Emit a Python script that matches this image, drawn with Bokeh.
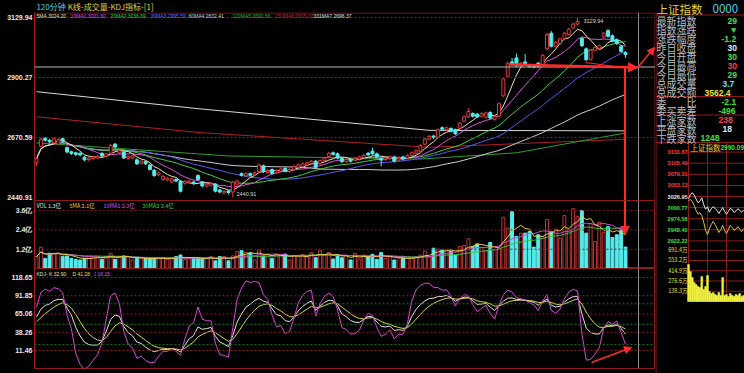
import pandas as pd
from bokeh.plotting import figure
from bokeh.layouts import row, column
from bokeh.models import Range1d, FixedTicker, Span, Label, Arrow, NormalHead, ColumnDataSource
from bokeh.core.properties import value
from bokeh.embed import file_html
from bokeh.resources import INLINE

# ---------------- data (120-minute candles) ----------------
opens = [2574,2637,2668,2660,2650,2645,2666,2632,2616,2612,
         2610,2595,2586,2590,2592,2610,2598,2610,2645,2612,
         2615,2590,2592,2585,2572,2578,2565,2545,2528,2510,
         2508,2500,2510,2503,2495,2497,2500,2525,2500,2484,
         2488,2492,2470,2458,2466,2462,2492,2532,2524,2532,
         2528,2540,2562,2536,2548,2536,2542,2552,2540,2548,
         2556,2560,2566,2572,2580,2570,2582,2598,2612,2608,
         2590,2578,2586,2584,2588,2594,2610,2618,2608,2590,
         2586,2590,2596,2584,2596,2592,2602,2610,2618,2645,
         2664,2676,2672,2708,2700,2705,2700,2706,2733,2750,
         2762,2760,2752,2748,2766,2740,2752,2830,2905,2960,
         2975,2945,2960,2948,2946,2955,2950,3010,3070,3020,
         3030,3050,3065,3090,3105,3050,3010,2970,3005,3012,
         3055,3080,3060,3045,3020,2995]
closes = [2590,2664,2660,2654,2666,2662,2656,2615,2610,2606,
          2604,2585,2592,2596,2598,2600,2608,2640,2634,2620,
          2592,2598,2600,2570,2580,2570,2548,2525,2535,2522,
          2515,2512,2504,2465,2502,2503,2494,2510,2485,2492,
          2494,2465,2462,2464,2460,2500,2504,2526,2532,2526,
          2536,2565,2540,2544,2533,2544,2550,2542,2548,2560,
          2566,2570,2574,2580,2556,2582,2592,2610,2606,2592,
          2578,2586,2580,2590,2596,2602,2604,2608,2596,2584,
          2592,2596,2580,2592,2588,2602,2612,2620,2640,2665,
          2675,2670,2700,2702,2708,2695,2685,2725,2750,2770,
          2752,2750,2762,2765,2745,2750,2800,2895,2955,2950,
          2945,2955,2950,2942,2940,2942,2985,3065,3020,3035,
          3048,3070,3085,3105,3115,3022,2968,3005,3015,3022,
          3070,3058,3040,3030,3000,2988]
highs = [2596,2670,2672,2666,2672,2668,2670,2636,2620,2616,
         2614,2600,2597,2600,2604,2614,2612,2646,2650,2626,
         2620,2603,2605,2590,2585,2582,2570,2550,2540,2527,
         2520,2517,2514,2507,2507,2508,2505,2530,2504,2497,
         2499,2496,2474,2469,2470,2505,2509,2537,2537,2537,
         2541,2572,2567,2549,2552,2549,2555,2557,2553,2565,
         2571,2575,2579,2585,2585,2587,2597,2616,2617,2613,
         2595,2591,2591,2595,2601,2607,2615,2632,2613,2595,
         2597,2601,2601,2597,2601,2607,2617,2625,2645,2670,
         2680,2681,2706,2713,2713,2710,2705,2730,2755,2782,
         2767,2765,2767,2770,2771,2755,2806,2901,2962,2975,
         2992,2960,2990,2953,2951,2960,2990,3071,3078,3040,
         3053,3075,3090,3110,3129.94,3055,3015,3010,3020,3027,
         3075,3085,3065,3050,3025,3000]
lows = [2562,2632,2655,2648,2645,2640,2650,2610,2604,2600,
        2598,2580,2580,2585,2588,2595,2594,2606,2628,2606,
        2588,2585,2588,2565,2567,2565,2544,2520,2522,2505,
        2503,2496,2499,2460,2490,2492,2489,2505,2480,2479,
        2483,2460,2457,2453,2452,2440.91,2487,2521,2519,2521,
        2523,2535,2535,2531,2528,2531,2537,2537,2535,2543,
        2551,2555,2561,2567,2551,2565,2577,2593,2601,2587,
        2573,2573,2575,2579,2583,2589,2599,2603,2591,2560,
        2581,2585,2575,2579,2583,2587,2597,2605,2613,2640,
        2659,2665,2667,2697,2695,2690,2680,2701,2728,2745,
        2747,2745,2747,2743,2740,2735,2747,2825,2900,2945,
        2940,2940,2945,2937,2935,2937,2945,3005,3015,3015,
        3025,3045,3060,3085,3100,3017,2963,2965,3000,3007,
        3050,3053,3035,3025,2995,2975]
# volume, in 亿
volumes = [0.74,1.32,0.63,0.95,0.95,0.95,0.74,0.78,0.63,0.57,
           0.53,0.63,0.74,0.74,0.74,0.57,0.74,0.95,0.57,0.74,
           0.78,0.74,0.53,0.63,0.63,0.63,0.63,0.63,0.63,0.63,
           0.57,0.63,0.74,0.84,0.57,0.63,0.67,0.63,0.63,0.63,
           0.74,0.48,0.74,0.74,0.48,0.78,1.05,1.11,1.00,0.98,
           0.53,1.15,0.78,0.90,0.63,0.84,0.84,0.90,0.53,0.78,
           0.78,0.88,0.74,0.99,0.67,1.11,0.82,1.00,0.59,0.84,
           0.67,0.82,0.53,0.95,0.59,0.84,0.74,0.88,0.57,0.99,
           0.63,0.74,0.53,0.63,0.67,0.63,0.67,0.74,0.84,1.09,
           0.74,1.26,1.20,1.15,1.15,1.09,0.84,1.37,1.43,1.85,
           1.37,1.53,1.30,1.09,1.62,1.15,1.26,3.19,2.52,3.53,
           2.00,2.20,2.20,2.30,1.33,2.10,2.00,3.05,2.30,2.45,
           1.90,3.30,2.40,3.72,3.25,3.60,2.20,2.80,1.68,2.88,
           2.25,2.60,1.93,2.10,2.45,1.33]

# long moving averages at a few candles
ma120_idx = [0, 44, 88, 110, 135]
ma120_val = [2650, 2600, 2588, 2612, 2688]
ma250_idx = [0, 37, 90, 135]
ma250_val = [2750, 2690, 2633, 2664]
ma331_idx = [0, 37, 90, 135]
ma331_val = [2846, 2781, 2698, 2696]

# axis tick labels
price_ticks = [2440.91, 2670.59, 2900.27, 3129.94]
price_tick_labels = ["2440.91", "2670.59", "2900.27", "3129.94"]
vol_ticks = [1.2, 2.4, 3.6]
vol_tick_labels = ["1.2亿", "2.4亿", "3.6亿"]
kdj_ticks = [11.46, 38.26, 65.06, 91.85, 118.65]
kdj_tick_labels = ["11.46", "38.26", "65.06", "91.85", "118.65"]

# legends
ma_legend = [("5MA 3024.20", "#ece4b0"), ("10MA1 3021.60", "#e050e0"), ("20MA2 3036.69", "#40d040"),
             ("30MA3 2995.59", "#6a6aff"), ("60MA4 2832.41", "#d0d0d0"), ("120MA5 2690.66", "#30b030"),
             ("250MA6 2605.33", "#c02828"), ("331MA7 2696.37", "#e0e0e0")]
vol_legend = [("VOL 1.3亿", "#e0e0e0"), ("5MA 2.1亿", "#e0d040"), ("10MA1 2.3亿", "#e050e0"), ("20MA2 2.4亿", "#40d040")]
kdj_legend = [("KDJ- K 32.90", "#e8e0a0"), ("D 41.28", "#e0e040"), ("J 16.15", "#e050e0")]

# right-hand quote panel (values as far as they are visible)
info_labels = ["最新指数", "指数涨跌", "涨跌幅度", "昨日收盘", "今日开盘", "今日最高", "今日最低",
               "总成交量", "总成交额", "委　　比", "委买卖差", "上涨家数", "平盘家数", "下跌家数"]
info_values = ["29", "▼", "-1.2", "30", "30", "30", "29",
               "3.7", "3562.4", "-2.1", "-496", "238", "18", "1248"]
# intraday mini chart
intra_min = [0, 3, 6, 9, 12, 15, 18, 21, 24, 27, 30, 33, 36, 39, 42, 45, 48, 51, 54, 57, 60, 63, 66, 69, 72, 75, 78, 81, 84, 87]
intra_price = [3022, 3031, 3036, 3030, 3021, 3012, 3016, 3024, 3008, 2997, 3003, 2990, 2998, 3003, 2999,
               2994, 2987, 2994, 3001, 2992, 2985, 2992, 2999, 2996, 2989, 2993, 2998, 2994, 2990, 2995]
intra_avg = [3017, 3020, 3015, 3006, 2994, 2985, 2989, 2982, 2966, 2947, 2937, 2951, 2961, 2968, 2961,
             2952, 2942, 2949, 2959, 2947, 2940, 2949, 2959, 2954, 2947, 2950, 2956, 2950, 2944, 2951]
intra_vol = [499, 405, 324, 256, 229, 202, 189, 337, 162, 202, 351, 135, 108, 121, 94, 81, 121, 81, 324,
             81, 94, 67, 108, 81, 67, 94, 81, 108, 67, 81]
mini_price_ticks = [3131.67, 3105.49, 3079.31, 3053.13, 3026.95, 3000.77, 2974.58, 2948.40, 2922.22]
mini_vol_ticks = [691.4, 553.2, 414.9, 276.6, 138.3]

# ---------------- helpers: screen pixel -> data ----------------
X0, DX = 36.0, 4.363
def ix(px): return (px - X0) / DX
def py(y): return 3129.94 - (y - 17) * 3.828
def vy(y): return (268 - y) * 0.0622
def ky(y): return 11.46 + (350 - y) * 1.468

UP = "#e23c3c"
UPV = "#c03434"
DN = "#54ecec"
GRID_R = "#8c1c1c"
GRID_G = "#1c7a1c"
CJK = "Noto Sans CJK SC"
LAT = "Liberation Sans"

xr = Range1d(ix(34), ix(655))

def base(height, yr, bottom=0):
    p = figure(width=655, height=height, x_range=xr, y_range=yr, output_backend="svg",
               toolbar_location=None, min_border_left=34, min_border_right=0,
               min_border_top=0, min_border_bottom=bottom, x_axis_location=None)
    p.background_fill_color = "black"
    p.border_fill_color = "black"
    p.outline_line_color = GRID_R
    p.grid.visible = False
    return p

def style_axis(p, ticks, labels):
    ax = p.yaxis[0]
    ax.ticker = FixedTicker(ticks=ticks)
    ax.major_label_overrides = {t: l for t, l in zip(ticks, labels)}
    ax.major_label_text_color = "#e8e8e8"
    ax.major_label_text_font_size = "7px"
    ax.major_label_text_font = LAT
    ax.major_label_text_font_style = "bold"
    ax.axis_line_color = "#a01e1e"
    ax.major_tick_line_color = None
    ax.minor_tick_line_color = None
    ax.major_tick_out = 0
    ax.major_tick_in = 0
    ax.major_label_standoff = 2

def label(p, x, y, text, color, size="6px", font=CJK, align="left"):
    p.add_layout(Label(x=x, y=y, text=text, text_color=color, text_font_size=size,
                       text_font=font, text_baseline="middle", text_align=align))

n = len(closes)
idx = list(range(n))
up = [closes[i] >= opens[i] for i in idx]
df = pd.DataFrame({"o": opens, "h": highs, "l": lows, "c": closes, "v": volumes})

def split(mask):
    ii = [i for i in idx if mask[i]]
    return dict(x=ii,
                top=[max(opens[i], closes[i]) for i in ii],
                bottom=[min(opens[i], closes[i]) for i in ii],
                high=[highs[i] for i in ii],
                low=[lows[i] for i in ii],
                vol=[volumes[i] for i in ii])

s_up = ColumnDataSource(split(up))
s_dn = ColumnDataSource(split([not u for u in up]))

ARROW = "#ff2a2a"

# ---------------- header strip ----------------
hd = figure(width=655, height=12, x_range=Range1d(0, 655), y_range=Range1d(12, 0),
            output_backend="svg", toolbar_location=None, min_border=0,
            x_axis_location=None, y_axis_location=None)
hd.background_fill_color = "black"
hd.border_fill_color = "black"
hd.outline_line_color = None
hd.grid.visible = False
hd.text(x=[2, 35], y=[6, 6], text=["120分钟", "K线-成交量-KDJ指标-[1]"],
        text_color=["#40d8d8", "#e0d040"], text_font=value(CJK), text_font_size="8px",
        text_baseline="middle")

# ---------------- price panel ----------------
pp = base(188, Range1d(py(200), py(12)))
pp.outline_line_color = None
style_axis(pp, price_ticks, price_tick_labels)
for t in price_ticks[1:]:
    pp.add_layout(Span(location=t, dimension="width", line_color=GRID_R, line_dash="2 2", line_width=1))
pp.segment(x0=[ix(34), ix(654.5)], y0=[py(12.5), py(12)], x1=[ix(655), ix(654.5)], y1=[py(12.5), py(200)],
           line_color=GRID_R, line_width=1)
pp.add_layout(Span(location=py(66.5), dimension="width", line_color="#b4b4b4", line_width=1))
pp.segment(x0=[ix(638)], y0=[py(12)], x1=[ix(638)], y1=[py(200)], line_color="#8a8a8a", line_width=1)

mas = {
    "ma60": (df.c.rolling(60, min_periods=1).mean(), "#cfcfcf"),
    "ma30": (df.c.rolling(30, min_periods=1).mean(), "#5a5aee"),
    "ma20": (df.c.rolling(20, min_periods=1).mean(), "#40d040"),
    "ma10": (df.c.rolling(10, min_periods=1).mean(), "#e050e0"),
    "ma5": (df.c.rolling(5, min_periods=1).mean(), "#ece4b0"),
}
pp.line(ma331_idx, ma331_val, line_color="#d8d8d8", line_width=1)
pp.line(ma250_idx, ma250_val, line_color="#b02020", line_width=1)
pp.line(ma120_idx, ma120_val, line_color="#2f9e2f", line_width=1)
for k, (ser, col) in mas.items():
    pp.line(idx, list(ser), line_color=col, line_width=1)

pp.segment(x0="x", y0="low", x1="x", y1="high", source=s_dn, line_color=DN, line_width=1)
pp.vbar(x="x", top="top", bottom="bottom", width=0.68, source=s_dn, fill_color=DN, line_color=DN)
pp.segment(x0="x", y0="top", x1="x", y1="high", source=s_up, line_color=UP, line_width=1)
pp.segment(x0="x", y0="low", x1="x", y1="bottom", source=s_up, line_color=UP, line_width=1)
pp.vbar(x="x", top="top", bottom="bottom", width=0.68, source=s_up, fill_color="black", line_color=UP)

ma_x = [36, 70, 110, 150, 188, 232, 275, 313]
for (t, c), xx in zip(ma_legend, ma_x):
    label(pp, ix(xx), py(15.5), t, c, size="5px", font=LAT)
label(pp, ix(583), py(20.5), "3129.94", "#d8d8d8", size="5.5px", font=LAT)
label(pp, ix(236), py(193), "2440.91", "#d8d8d8", size="5.5px", font=LAT)

pp.add_layout(Arrow(x_start=ix(508), y_start=py(64), x_end=ix(637), y_end=py(67),
                    line_color=ARROW, line_width=2.5,
                    end=NormalHead(size=9, fill_color=ARROW, line_color=ARROW)))
pp.segment(x0=[ix(585)], y0=[py(62)], x1=[ix(622)], y1=[py(67)], line_color=ARROW, line_width=1)
pp.segment(x0=[ix(624.5)], y0=[py(67)], x1=[ix(624.5)], y1=[py(201)], line_color=ARROW, line_width=2)
pp.add_layout(Arrow(x_start=ix(637), y_start=py(67), x_end=ix(654), y_end=py(47),
                    line_color=ARROW, line_width=1.5,
                    end=NormalHead(size=7, fill_color=ARROW, line_color=ARROW)))

# ---------------- volume panel ----------------
pv = base(68, Range1d(vy(268), vy(200)))
style_axis(pv, vol_ticks, vol_tick_labels)
for t in vol_ticks:
    pv.add_layout(Span(location=t, dimension="width", line_color=GRID_R, line_dash="2 2", line_width=1))
pv.add_layout(Span(location=ix(638), dimension="height", line_color="#8a8a8a", line_width=1))
pv.vbar(x="x", top="vol", bottom=0, width=0.68, source=s_dn, fill_color=DN, line_color=DN)
pv.vbar(x="x", top="vol", bottom=0, width=0.68, source=s_up, fill_color="black", line_color=UPV)
pv.line(idx, list(df.v.rolling(20, min_periods=1).mean()), line_color="#40c040", line_width=1)
pv.line(idx, list(df.v.rolling(10, min_periods=1).mean()), line_color="#d048d0", line_width=1)
pv.line(idx, list(df.v.rolling(5, min_periods=1).mean()), line_color="#e0d040", line_width=1)
for (t, c), xx in zip(vol_legend, [36, 69, 103, 142]):
    label(pv, ix(xx), vy(205), t, c, size="5.5px")
pv.add_layout(Arrow(x_start=ix(624.5), y_start=vy(200), x_end=ix(624.5), y_end=vy(234),
                    line_color=ARROW, line_width=2,
                    end=NormalHead(size=8, fill_color=ARROW, line_color=ARROW)))

# ---------------- KDJ panel ----------------
llv = df.l.rolling(9, min_periods=1).min()
hhv = df.h.rolling(9, min_periods=1).max()
rsv = ((df.c - llv) / (hhv - llv) * 100).fillna(50)
K, D = [], []
k = d = 50.0
for r in rsv:
    k = 2 / 3 * k + r / 3
    d = 2 / 3 * d + k / 3
    K.append(k)
    D.append(d)
J = [3 * a - 2 * b for a, b in zip(K, D)]

pk = base(105, Range1d(ky(368), ky(268)), bottom=5)
style_axis(pk, kdj_ticks, kdj_tick_labels)
for t in kdj_ticks:
    pk.add_layout(Span(location=t, dimension="width", line_color=GRID_R, line_dash="2 2", line_width=1))
for t in [20, 50, 80]:
    pk.add_layout(Span(location=t, dimension="width", line_color=GRID_G, line_dash="2 2", line_width=1))
pk.add_layout(Span(location=ix(638), dimension="height", line_color="#8a8a8a", line_width=1))
pk.line(idx, D, line_color="#d8d840", line_width=1)
pk.line(idx, K, line_color="#e4e4e4", line_width=1)
pk.line(idx, J, line_color="#d848d8", line_width=1)
for (t, c), xx in zip(kdj_legend, [36, 72, 93]):
    label(pk, ix(xx), ky(273.5), t, c, size="5px", font=LAT)
pk.add_layout(Arrow(x_start=ix(591), y_start=ky(362), x_end=ix(631), y_end=ky(347),
                    line_color=ARROW, line_width=1.5,
                    end=NormalHead(size=7, fill_color=ARROW, line_color=ARROW)))

# ---------------- right quote panel ----------------
pr = figure(width=89, height=373, x_range=Range1d(655, 744), y_range=Range1d(373, 0),
            output_backend="svg", toolbar_location=None, min_border=0,
            x_axis_location=None, y_axis_location=None)
pr.background_fill_color = "black"
pr.border_fill_color = "black"
pr.outline_line_color = None
pr.grid.visible = False
pr.extra_x_ranges = {"min": Range1d((655 - 688) / 0.633, (744 - 688) / 0.633)}
pr.extra_y_ranges = {"mp": Range1d(3026.95 - (373 - 196) * 2.3586, 3026.95 + 196 * 2.3586),
                     "mv": Range1d(-(373 - 301) * 13.49, 301 * 13.49)}

RR = "#8c1c1c"
pr.segment(x0=[655.5, 655, 655, 655, 655, 688, 707, 726, 688],
           y0=[12, 14.5, 96, 114.5, 142, 142, 142, 142, 301],
           x1=[655.5, 744, 744, 744, 744, 688, 707, 726, 744],
           y1=[373, 14.5, 96, 114.5, 142, 301, 301, 301, 301],
           line_color=RR, line_width=1)
pr.segment(x0=[0] * len(mini_price_ticks), y0=mini_price_ticks, x1=[100] * len(mini_price_ticks),
           y1=mini_price_ticks, x_range_name="min", y_range_name="mp", line_color=RR, line_width=1)
pr.segment(x0=[0] * len(mini_vol_ticks), y0=mini_vol_ticks, x1=[100] * len(mini_vol_ticks),
           y1=mini_vol_ticks, x_range_name="min", y_range_name="mv", line_color=RR, line_width=1)

rows_y = [20, 29, 38, 47, 56, 65, 74, 83, 92, 101.5, 110, 119.5, 128.5, 137.5]
val_x = [727, 729, 721, 727, 727, 727, 727, 722, 704, 721, 718, 718, 722, 700]
G, W, R, C, Y = "#3ee03e", "#e8e8e8", "#ff4040", "#54ecec", "#e8e040"
val_c = [G, G, G, W, G, R, G, C, Y, G, G, R, W, G]
pr.text(x=[656] * 14, y=rows_y, text=info_labels, text_color="#bdbdbd", text_font=value(CJK),
        text_font_size="10px", text_baseline="middle")
pr.text(x=val_x, y=rows_y, text=info_values, text_color=val_c, text_font=value(LAT),
        text_font_size="8.5px", text_baseline="middle", text_font_style="bold")
pr.text(x=[656, 712], y=[8, 8], text=["上证指数", "0000"], text_color=["#e6d23c", "#54d8e8"],
        text_font=value(CJK), text_font_size="11.5px", text_baseline="middle")
pr.text(x=[690], y=[147], text=["上证指数"], text_color=["#e6d23c"],
        text_font=value(CJK), text_font_size="7.5px", text_baseline="middle")
pr.text(x=[720], y=[147], text=["2990.09"], text_color=[G],
        text_font=value(LAT), text_font_size="6.5px", text_baseline="middle", text_font_style="bold")

mp_y = [196 - (t - 3026.95) / 2.3586 for t in mini_price_ticks]
mp_c = [R, R, R, R, W, G, G, G, G]
pr.text(x=[687] * 9, y=mp_y, text=["%.2f" % t for t in mini_price_ticks], text_color=mp_c,
        text_font=value(LAT), text_font_size="5.5px", text_baseline="middle", text_align="right",
        text_font_style="bold")
mv_y = [301 - t / 13.49 for t in mini_vol_ticks]
pr.text(x=[687] * 5, y=mv_y, text=["%.1f万" % t for t in mini_vol_ticks], text_color=Y,
        text_font=value(CJK), text_font_size="5.5px", text_baseline="middle", text_align="right")

pr.vbar(x=intra_min, top=intra_vol, bottom=0, width=3.0, x_range_name="min", y_range_name="mv",
        fill_color="#f0f040", line_color="#f0f040", line_width=0.5)
pr.line(intra_min, intra_avg, x_range_name="min", y_range_name="mp", line_color="#d8c040", line_width=1)
pr.line(intra_min, intra_price, x_range_name="min", y_range_name="mp", line_color="#e8e8e8", line_width=1)

layout = row(column(hd, pp, pv, pk), pr)
html = file_html(layout, INLINE, title="上证指数 120分钟")
html = html.replace("<head>", "<head><style>body{background:#000000;}</style>", 1)
open("out.html", "w").write(html)
